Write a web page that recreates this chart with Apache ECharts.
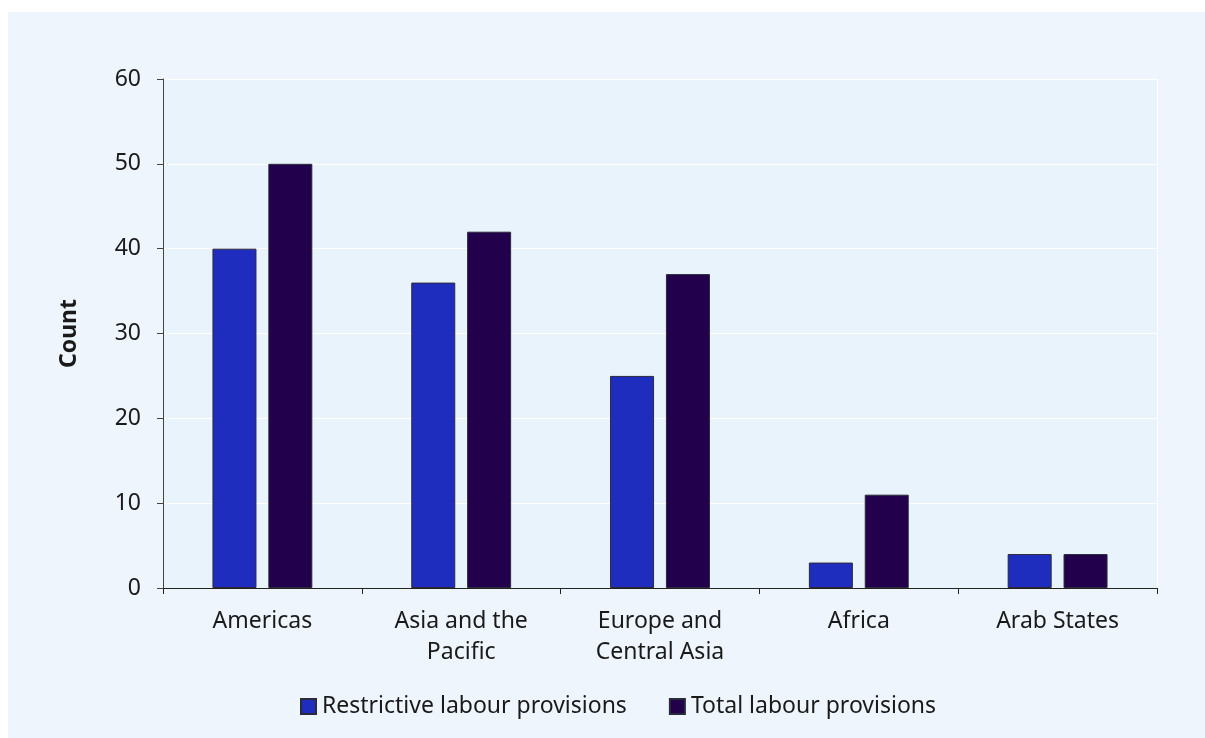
<!DOCTYPE html>
<html>
<head>
<meta charset="utf-8">
<script src="https://cdn.jsdelivr.net/npm/echarts@6/dist/echarts.min.js"></script>
<style>
  html, body { margin: 0; padding: 0; background: #ffffff; }
  #chart { width: 1205px; height: 738px; }
</style>
</head>
<body>
<div id="chart"></div>
<script>
// Labour provisions by region
const categories = ['Americas', 'Asia and the\nPacific', 'Europe and\nCentral Asia', 'Africa', 'Arab States'];
const restrictive = [40, 36, 25, 3, 4];
const total = [50, 42, 37, 11, 4];
const yTicks = [0, 10, 20, 30, 40, 50, 60];

const FONT = '"Noto Sans", "Open Sans", sans-serif';
const chart = echarts.init(document.getElementById('chart'));

chart.setOption({
  animation: false,
  backgroundColor: '#ffffff',
  textStyle: { fontFamily: FONT },
  graphic: [{
    type: 'rect',
    z: -10,
    shape: { x: 8, y: 12, width: 1197, height: 726 },
    style: { fill: '#EEF5FC' }
  }],
  grid: {
    left: 163, right: 48, top: 79, bottom: 150,
    show: true,
    backgroundColor: '#E9F3FC',
    borderWidth: 0
  },
  legend: {
    bottom: 20,
    left: 300,
    padding: 0,
    icon: 'rect',
    itemWidth: 15,
    itemHeight: 15,
    itemGap: 42,
    textStyle: { fontFamily: FONT, fontSize: 23, color: '#1a1a1a', padding: [0, 0, 0, 1] },
    data: ['Restrictive labour provisions', 'Total labour provisions']
  },
  xAxis: {
    type: 'category',
    data: categories,
    axisLine: { show: true, lineStyle: { color: '#222', width: 1 } },
    axisTick: { show: true, length: 6, alignWithLabel: false, lineStyle: { color: '#222' } },
    axisLabel: { fontFamily: FONT, fontSize: 23, color: '#1a1a1a', margin: 18, lineHeight: 31 },
    splitLine: { show: false }
  },
  yAxis: [{
    type: 'value',
    min: yTicks[0],
    max: yTicks[yTicks.length - 1],
    interval: 10,
    name: 'Count',
    nameLocation: 'middle',
    nameGap: 82,
    nameRotate: 90,
    nameTextStyle: { fontFamily: FONT, fontSize: 23, fontWeight: 'bold', color: '#1a1a1a' },
    axisLine: { show: true, lineStyle: { color: '#444', width: 1 } },
    axisTick: { show: true, inside: false, length: 6, lineStyle: { color: '#444' } },
    axisLabel: { fontFamily: FONT, fontSize: 23, color: '#1a1a1a', margin: 22 },
    splitLine: { show: true, lineStyle: { color: '#ffffff', width: 1 } }
  }, {
    // right edge of the plot frame
    type: 'value',
    position: 'right',
    min: yTicks[0],
    max: yTicks[yTicks.length - 1],
    interval: 10,
    axisLine: { show: true, lineStyle: { color: '#ffffff', width: 1 } },
    axisTick: { show: false },
    axisLabel: { show: false },
    splitLine: { show: false }
  }],
  series: [
    {
      name: 'Restrictive labour provisions',
      type: 'bar',
      data: restrictive,
      barWidth: 44,
      barGap: '27%',
      itemStyle: { color: '#1F2DBE', borderColor: '#2a2a3a', borderWidth: 1 }
    },
    {
      name: 'Total labour provisions',
      type: 'bar',
      data: total,
      barWidth: 44,
      barGap: '27%',
      itemStyle: { color: '#22004B', borderColor: '#2a2a3a', borderWidth: 1 }
    }
  ]
});
</script>
</body>
</html>
